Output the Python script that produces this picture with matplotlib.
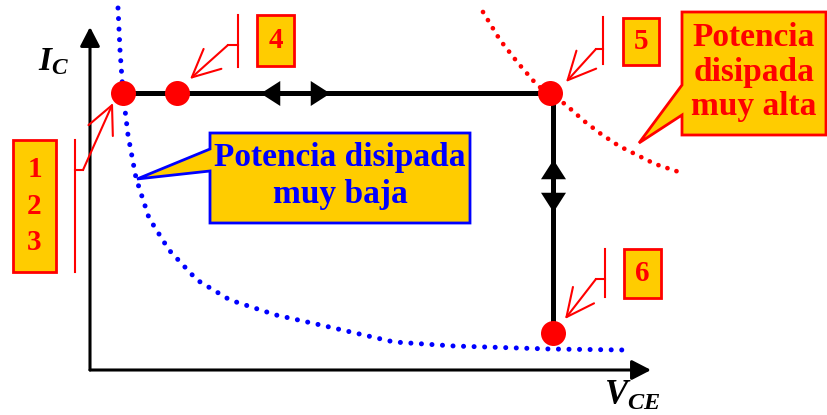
import matplotlib.pyplot as plt
from matplotlib.patches import Polygon, Rectangle, FancyArrowPatch

plt.rcParams['mathtext.fontset'] = 'custom'
plt.rcParams['mathtext.it'] = 'Liberation Serif:italic:bold'
plt.rcParams['mathtext.rm'] = 'Liberation Serif:bold'

# switching points of the transistor (V_CE, I_C), arbitrary units
q_vce = [3.3, 8.7, 46.0, 46.3]
q_ic = [27.7, 27.7, 27.7, 3.7]

# trajectory: saturation -> cut-off
path_vce = [3.3, 46.3, 46.3]
path_ic = [27.7, 27.7, 3.7]

# direction marks on the trajectory
h_arrow_vce = [18.0, 23.0]
v_arrow_ic = [20.1, 16.8]

# iso-power curves
low_vce = [2.8, 3.0, 3.3, 3.8, 4.6, 5.9, 7.9, 10.7, 14.0, 18.6, 23.5, 30.4, 36.4, 46.0, 53.5]
low_ic = [36.2, 32.0, 27.7, 23.5, 19.2, 15.2, 12.0, 9.0, 7.0, 5.5, 4.4, 2.8, 2.4, 2.1, 2.0]
high_vce = [39.3, 41.0, 42.8, 44.7, 45.9, 47.5, 49.4, 51.1, 52.9, 54.7, 56.5, 58.3, 59.2]
high_ic = [35.8, 33.0, 30.7, 28.5, 27.6, 26.6, 24.9, 23.6, 22.4, 21.5, 20.6, 20.0, 19.7]

GOLD = '#FFCC00'
RED = '#FF0000'
BLUE = '#0000FF'
SERIF = 'Liberation Serif'


def P(x, y):
    # layout helper: picture pixel -> axis units
    return ((x - 90) / 10, (370 - y) / 10)


fig = plt.figure(figsize=(8.28, 4.15), dpi=100)
ax = fig.add_axes([0, 0, 1, 1])
ax.set_xlim(-9, 73.8)
ax.set_ylim(-4.5, 37)
ax.axis('off')

# axes with arrows
for end in [P(90, 27), P(651, 370)]:
    ax.add_patch(FancyArrowPatch(P(90, 370), end, arrowstyle='-|>,head_length=0.58,head_width=0.3',
                                 mutation_scale=20, lw=2.2, color='black', shrinkA=0, shrinkB=0,
                                 zorder=2))
ax.text(*P(38, 70), r'$I_C$', fontsize=24, ha='left', va='baseline')
ax.text(*P(604, 405), r'$V_{CE}$', fontsize=25, ha='left', va='baseline')

# power curves (dotted)
ax.plot(low_vce, low_ic, color=BLUE, lw=3.6, linestyle=(0, (0.01, 2.1)), dash_capstyle='round', zorder=1)
ax.plot(high_vce, high_ic, color=RED, lw=3.4, linestyle=(0, (0.01, 2.0)), dash_capstyle='round', zorder=1)

# trajectory and direction marks
ax.plot(path_vce, path_ic, color='black', lw=3.6, solid_joinstyle='miter', zorder=3)
left_tri = [(-0.78, 0), (0.78, 1), (0.78, -1), (-0.78, 0)]
right_tri = [(x * -1, y) for x, y in left_tri]
up_tri = [(y, -x) for x, y in left_tri]
down_tri = [(y, x) for x, y in left_tri]
ax.plot(h_arrow_vce[0], path_ic[0], marker=left_tri, ms=18, color='black', mew=0, zorder=3)
ax.plot(h_arrow_vce[1], path_ic[0], marker=right_tri, ms=18, color='black', mew=0, zorder=3)
ax.plot(path_vce[2], v_arrow_ic[0], marker=up_tri, ms=18, color='black', mew=0, zorder=3)
ax.plot(path_vce[2], v_arrow_ic[1], marker=down_tri, ms=18, color='black', mew=0, zorder=3)

ax.plot(q_vce, q_ic, 'o', ms=18, color=RED, mew=0, zorder=4)


# numbered callouts
def num_box(x0, y0, x1, y1, label, bar_x, bar_y0, bar_y1, knee_y, knee_x, tip):
    (a, b), (c, d) = P(x0, y1), P(x1, y0)
    ax.add_patch(Rectangle((a, b), c - a, d - b, facecolor=GOLD, edgecolor=RED, lw=2, zorder=5))
    cx, cy = P((x0 + x1) / 2, (y0 + y1) / 2)
    ax.text(cx, cy, label, color=RED, fontsize=21, fontweight='bold', family=SERIF,
            ha='center', va='center', linespacing=1.45, zorder=6)
    xs, ys = zip(P(bar_x, bar_y0), P(bar_x, bar_y1))
    ax.plot(xs, ys, color=RED, lw=1.5, zorder=5)
    xs, ys = zip(P(bar_x, knee_y), P(knee_x, knee_y))
    ax.plot(xs, ys, color=RED, lw=1.5, zorder=5)
    ax.add_patch(FancyArrowPatch(P(knee_x, knee_y), P(*tip),
                                 arrowstyle='->,head_length=1.0,head_width=0.48',
                                 mutation_scale=20, lw=1.5, color=RED, shrinkA=0, shrinkB=0,
                                 zorder=5))


num_box(13, 140, 56, 272, '1\n2\n3', 75, 140, 272, 170, 83, (113, 103))
num_box(257, 15, 294, 66, '4', 238, 15, 67, 45, 228, (190, 79))
num_box(623, 18, 659, 65, '5', 603, 17, 64, 49, 596, (566, 82))
num_box(624, 249, 661, 298, '6', 605, 249, 297, 279, 596, (565, 319))

# speech-bubble notes
low_note = [P(210, 133), P(470, 133), P(470, 223), P(210, 223), P(210, 171), P(137, 179), P(210, 149)]
ax.add_patch(Polygon(low_note, closed=True, facecolor=GOLD, edgecolor=BLUE, lw=2, zorder=5))
ax.text(*P(340, 176), 'Potencia disipada\nmuy baja', color=BLUE, fontsize=24, fontweight='bold',
        family=SERIF, ha='center', va='center', linespacing=1.25, zorder=6)

high_note = [P(682, 12), P(826, 12), P(826, 135), P(682, 135), P(682, 115), P(639, 143), P(682, 85)]
ax.add_patch(Polygon(high_note, closed=True, facecolor=GOLD, edgecolor=RED, lw=2, zorder=5))
ax.text(*P(754, 72), 'Potencia\ndisipada\nmuy alta', color=RED, fontsize=24, fontweight='bold',
        family=SERIF, ha='center', va='center', linespacing=1.15, zorder=6)

fig.savefig('out.png', dpi=100)
